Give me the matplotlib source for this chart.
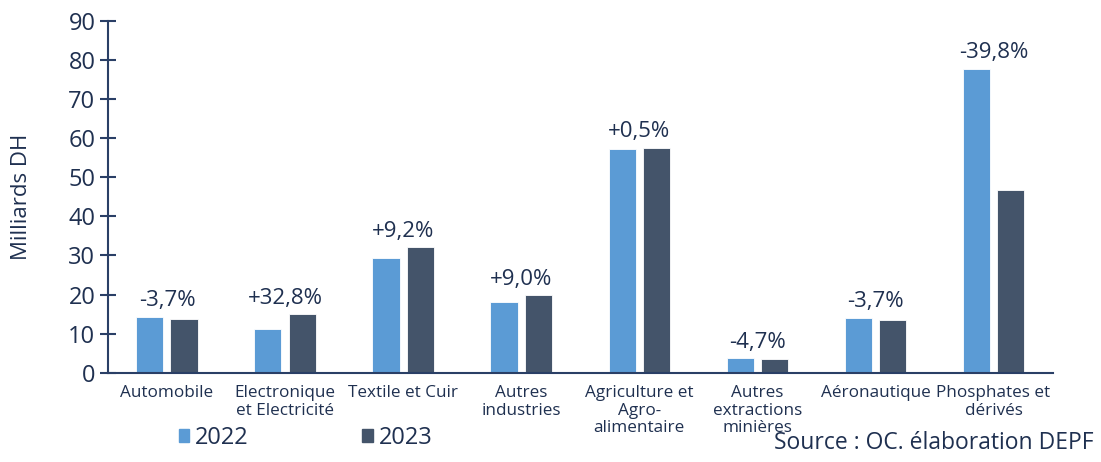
import matplotlib.pyplot as plt
import numpy as np
from matplotlib.patches import Patch

plt.rcParams['font.family'] = ['Open Sans', 'DejaVu Sans']

# Exportations par secteur, en milliards de DH
secteurs = ["Automobile", "Electronique\net Electricité", "Textile et Cuir",
            "Autres\nindustries", "Agriculture et\nAgro-\nalimentaire",
            "Autres\nextractions\nminières", "Aéronautique", "Phosphates et\ndérivés"]
valeurs_2022 = [14.3, 11.3, 29.4, 18.2, 57.3, 3.7, 14.1, 77.7]
valeurs_2023 = [13.8, 15.0, 32.1, 19.8, 57.6, 3.5, 13.6, 46.8]
variations = ["-3,7%", "+32,8%", "+9,2%", "+9,0%", "+0,5%", "-4,7%", "-3,7%", "-39,8%"]

bleu = "#5B9BD5"
gris = "#44546A"
texte = "#1F3050"

fig = plt.figure(figsize=(11.01, 4.62), dpi=100)
ax = fig.add_axes([0.098, 0.193, 0.858, 0.762])

x = np.arange(len(secteurs))
larg = 0.23
ax.bar(x - 0.145, valeurs_2022, larg, color=bleu, edgecolor="white", linewidth=0.6)
ax.bar(x + 0.145, valeurs_2023, larg, color=gris, edgecolor="white", linewidth=0.6)

for i, txt in enumerate(variations):
    haut = max(valeurs_2022[i], valeurs_2023[i])
    ax.annotate(txt, (x[i], haut), xytext=(0, 4), textcoords="offset points",
                ha="center", va="bottom", fontsize=16, color=texte)

ax.set_xlim(-0.5, len(secteurs) - 0.5)
ax.set_ylim(0, 90)
ax.set_yticks(range(0, 91, 10))
ax.set_xticks(x)
ax.set_xticklabels(secteurs, fontsize=12.3, color=texte, linespacing=1.1)
ax.tick_params(axis="x", length=0, pad=9)
ax.tick_params(axis="y", direction="inout", length=12, width=1.5, color="#2A3F66",
               labelsize=17, labelcolor=texte, pad=3)
ax.set_ylabel("Milliards DH", fontsize=16, color=texte, labelpad=26)

for side in ["top", "right"]:
    ax.spines[side].set_visible(False)
for side in ["left", "bottom"]:
    ax.spines[side].set_color("#2A3F66")
    ax.spines[side].set_linewidth(1.5)

handles = [Patch(color=bleu, label="2022"), Patch(color=gris, label="2023")]
fig.legend(handles=handles, loc="center left", bbox_to_anchor=(0.143, 0.052), ncol=2,
           frameon=False, fontsize=17, handlelength=0.45, handleheight=0.5,
           handletextpad=0.25, columnspacing=4.8, labelcolor=texte)

fig.text(0.993, 0.015, "Source : OC. élaboration DEPF", ha="right", va="bottom",
         fontsize=16.5, color=texte)

fig.savefig("out.png", dpi=100)
